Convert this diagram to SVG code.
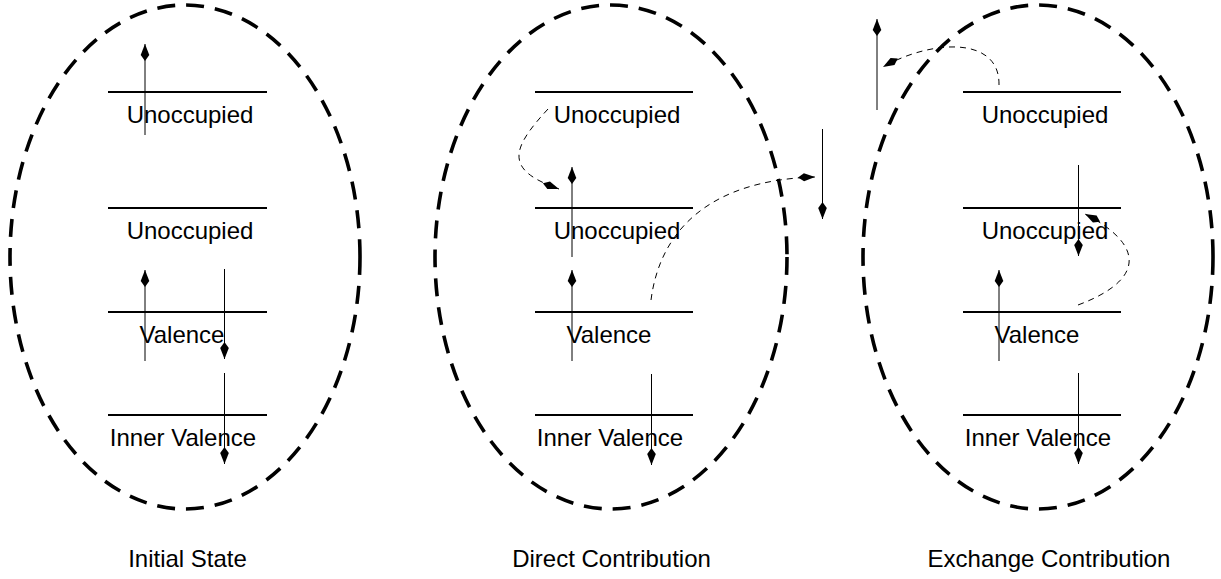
<svg xmlns="http://www.w3.org/2000/svg" width="1221" height="579" viewBox="0 0 1221 579">
<style>
.bg{fill:#fff}
.orb{fill:none;stroke:#000;stroke-width:3.6;stroke-dasharray:18 11}
.lvl{stroke:#000;stroke-width:2}
.t{font-family:"Liberation Sans",Arial,sans-serif;font-size:24px;fill:#000;text-anchor:middle}
.e{stroke:#000;stroke-width:1;fill:none;marker-end:url(#eh)}
.c{stroke:#000;stroke-width:1;fill:none;stroke-dasharray:6 5;marker-end:url(#ch)}
</style>
<defs>
<marker id="eh" markerUnits="userSpaceOnUse" viewBox="-18 -6 20 12" refX="0" refY="0" markerWidth="20" markerHeight="12" orient="auto">
<path d="M0,0 L-11,-4.3 L-17,0 L-11,4.3 Z" fill="#000"/>
</marker>
<marker id="ch" markerUnits="userSpaceOnUse" viewBox="-18 -6 20 12" refX="0" refY="0" markerWidth="20" markerHeight="12" orient="auto">
<path d="M0,0 L-11,-4 L-17,0 L-11,4 Z" fill="#000"/>
</marker>
</defs>
<rect class="bg" x="0" y="0" width="1221" height="579"/>

<g id="initial-state">
<ellipse class="orb" cx="185" cy="257" rx="175" ry="252"/>
<g id="initial-unocc1"><line class="lvl" x1="108" y1="92" x2="267" y2="92"/><text class="t" x="190" y="123">Unoccupied</text></g>
<g id="initial-unocc2"><line class="lvl" x1="108" y1="208" x2="267" y2="208"/><text class="t" x="190" y="239">Unoccupied</text></g>
<g id="initial-valence"><line class="lvl" x1="108" y1="312" x2="267" y2="312"/><text class="t" x="182" y="343">Valence</text></g>
<g id="initial-inner"><line class="lvl" x1="108" y1="415" x2="267" y2="415"/><text class="t" x="183" y="446">Inner Valence</text></g>
<g id="initial-electrons">
<line class="e" x1="145" y1="135" x2="145" y2="44"/>
<line class="e" x1="145" y1="361" x2="145" y2="270"/>
<line class="e" x1="224.5" y1="269" x2="224.5" y2="359"/>
<line class="e" x1="224.5" y1="373" x2="224.5" y2="464"/>
</g>
<text class="t" x="187.5" y="567">Initial State</text>
</g>

<g id="direct-contribution">
<ellipse class="orb" cx="611" cy="257" rx="176" ry="252"/>
<g id="direct-unocc1"><line class="lvl" x1="535" y1="92" x2="693" y2="92"/><text class="t" x="617" y="123">Unoccupied</text></g>
<g id="direct-unocc2"><line class="lvl" x1="535" y1="208" x2="693" y2="208"/><text class="t" x="617" y="239">Unoccupied</text></g>
<g id="direct-valence"><line class="lvl" x1="535" y1="312" x2="693" y2="312"/><text class="t" x="609" y="343">Valence</text></g>
<g id="direct-inner"><line class="lvl" x1="535" y1="415" x2="693" y2="415"/><text class="t" x="610" y="446">Inner Valence</text></g>
<g id="direct-electrons">
<line class="e" x1="572" y1="257" x2="572" y2="167"/>
<line class="e" x1="572" y1="361" x2="572" y2="270"/>
<line class="e" x1="651.5" y1="374" x2="651.5" y2="465"/>
<line class="e" x1="822.5" y1="129" x2="822.5" y2="219"/>
</g>
<text class="t" x="611.5" y="567">Direct Contribution</text>
</g>

<g id="exchange-contribution">
<ellipse class="orb" cx="1038" cy="257" rx="175" ry="252"/>
<g id="exchange-unocc1"><line class="lvl" x1="963" y1="92" x2="1121" y2="92"/><text class="t" x="1045" y="123">Unoccupied</text></g>
<g id="exchange-unocc2"><line class="lvl" x1="963" y1="208" x2="1121" y2="208"/><text class="t" x="1045" y="239">Unoccupied</text></g>
<g id="exchange-valence"><line class="lvl" x1="963" y1="312" x2="1121" y2="312"/><text class="t" x="1037" y="343">Valence</text></g>
<g id="exchange-inner"><line class="lvl" x1="963" y1="415" x2="1121" y2="415"/><text class="t" x="1038" y="446">Inner Valence</text></g>
<g id="exchange-electrons">
<line class="e" x1="877" y1="110" x2="877" y2="19"/>
<line class="e" x1="1078.5" y1="165" x2="1078.5" y2="256"/>
<line class="e" x1="999" y1="361" x2="999" y2="270"/>
<line class="e" x1="1078.5" y1="373" x2="1078.5" y2="464"/>
</g>
<text class="t" x="1049" y="567">Exchange Contribution</text>
</g>

<g id="connectors">
<path class="c" d="M548,109 C510,150 505,170 559,189"/>
<path class="c" d="M651,300 C660,230 710,180 815,177"/>
<path class="c" d="M999,85 C1000,35 930,40 883,67"/>
<path class="c" d="M1078,305 C1145,280 1145,245 1085,214"/>
</g>
</svg>
